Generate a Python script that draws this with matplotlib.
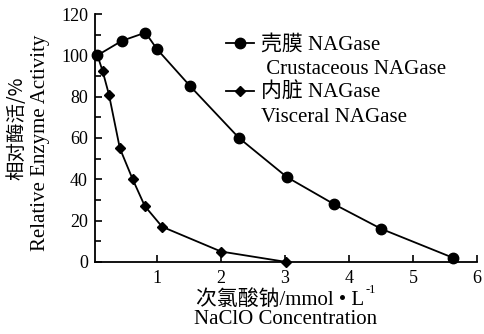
import matplotlib
matplotlib.use("Agg")
import matplotlib.pyplot as plt
from matplotlib.lines import Line2D
from matplotlib.ticker import MultipleLocator

FONTS = ['Liberation Serif', 'Noto Sans CJK SC']
plt.rcParams['font.family'] = FONTS

# data
shell_x = [0.07, 0.45, 0.82, 1.0, 1.52, 2.28, 3.03, 3.76, 4.5, 5.62]
shell_y = [100, 107, 111, 103, 85, 60, 41, 28, 16, 2]
visc_x = [0.07, 0.15, 0.25, 0.42, 0.62, 0.81, 1.08, 2.0, 3.01]
visc_y = [100, 92.5, 81, 55, 40, 27, 17, 5, 0]

x_ticks = [1, 2, 3, 4, 5, 6]
y_ticks = [0, 20, 40, 60, 80, 100, 120]

shell_label = ['壳膜 NAGase', ' Crustaceous NAGase']
visc_label = ['内脏 NAGase', 'Visceral NAGase']

fig = plt.figure(figsize=(4.84, 3.34), dpi=100)
left, bottom, width, height = 0.196, 0.216, 0.790, 0.742
ax = fig.add_axes([left, bottom, width, height])

l1, = ax.plot(shell_x, shell_y, '-o', color='black', lw=1.3, ms=7.5,
              clip_on=False, zorder=3)
l2, = ax.plot(visc_x, visc_y, '-D', color='black', lw=1.3, ms=5,
              clip_on=False, zorder=3)

ax.set_xlim(0.03, 6)
ax.set_ylim(0, 120)
ax.set_xticks(x_ticks)
ax.set_yticks(y_ticks)
ax.yaxis.set_minor_locator(MultipleLocator(10))
ax.tick_params(direction='in', labelsize=13, length=5, width=1.2)
ax.tick_params(axis='y', pad=5)
ax.tick_params(axis='x', pad=6)
ax.tick_params(which='minor', direction='in', length=4, width=1.2)
for s in ['top', 'right']:
    ax.spines[s].set_visible(False)
for s in ['left', 'bottom']:
    ax.spines[s].set_linewidth(1.3)

# axis titles, Chinese line over English line
cx = left + width / 2
t = fig.text(cx - 0.012, 0.102, '次氯酸钠/mmol • L', fontsize=15,
             ha='center', va='center')
ax.annotate('-1', xy=(1, 0.72), xycoords=t, xytext=(1, 0),
            textcoords='offset points', fontsize=9, va='bottom')
fig.text(cx, 0.042, 'NaClO Concentration', fontsize=15,
         ha='center', va='center')

cy = bottom + height / 2
fig.text(0.036, cy + 0.03, '相对酶活/%', fontsize=14, rotation=90,
         ha='center', va='center', family='Noto Sans CJK SC')
fig.text(0.084, cy - 0.015, 'Relative Enzyme Activity', fontsize=15,
         rotation=90, ha='center', va='center')

blank = Line2D([], [], linestyle='none')
ax.legend([l1, blank, l2, blank], shell_label + visc_label,
          loc='upper left', bbox_to_anchor=(0.342, 0.915), frameon=False,
          fontsize=15, handlelength=1.35, handletextpad=0.35,
          labelspacing=0.2, borderaxespad=0, borderpad=0)

fig.savefig('out.png', dpi=100)
